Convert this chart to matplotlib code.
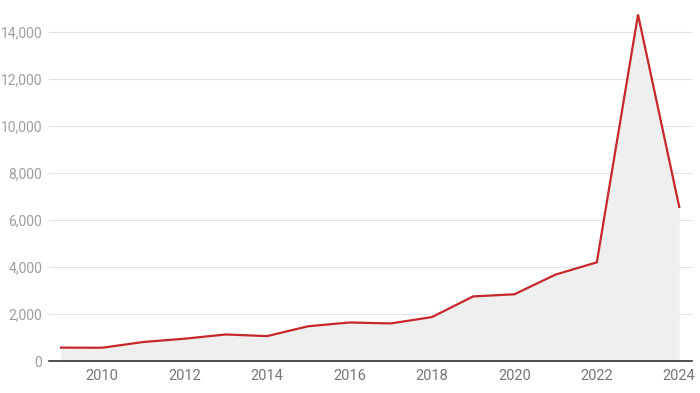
import matplotlib
matplotlib.use('Agg')
import matplotlib.pyplot as plt
from matplotlib.ticker import FuncFormatter

# data
years = [2009, 2010, 2011, 2012, 2013, 2014, 2015, 2016,
         2017, 2018, 2019, 2020, 2021, 2022, 2023, 2024]
values = [570, 565, 810, 950, 1130, 1060, 1480, 1640,
          1600, 1870, 2750, 2840, 3680, 4200, 14750, 6560]
y_ticks = [0, 2000, 4000, 6000, 8000, 10000, 12000, 14000]
x_ticks = [2010, 2012, 2014, 2016, 2018, 2020, 2022, 2024]

plt.rcParams['font.family'] = ['Roboto', 'DejaVu Sans']

fig = plt.figure(figsize=(7, 3.93), dpi=100)
ax = fig.add_axes([0.07, 0.0814, 0.9186, 0.8966])

ax.fill_between(years, values, 0, color='#efefef', lw=0, zorder=1)
ax.plot(years, values, color='#c62828', lw=1.6, zorder=3,
        solid_joinstyle='miter')

ax.set_xlim(2008.71, 2024.31)
ax.set_ylim(0, 15000)
ax.set_yticks(y_ticks)
ax.set_xticks(x_ticks)
ax.yaxis.set_major_formatter(FuncFormatter(lambda v, p: f'{int(v):,}'))

ax.grid(axis='y', color='#e2e2e2', lw=0.8, zorder=0)
ax.set_axisbelow(True)
for s in ['top', 'right', 'left']:
    ax.spines[s].set_visible(False)
ax.spines['bottom'].set_color('#333333')
ax.spines['bottom'].set_linewidth(1.2)
ax.spines['bottom'].set_zorder(4)

ax.tick_params(axis='y', length=0, pad=5, labelsize=10, labelcolor='#9e9e9e')
ax.tick_params(axis='x', length=0, pad=6, labelsize=10.5, labelcolor='#757575')

fig.savefig('out.png', dpi=100, facecolor='white')
